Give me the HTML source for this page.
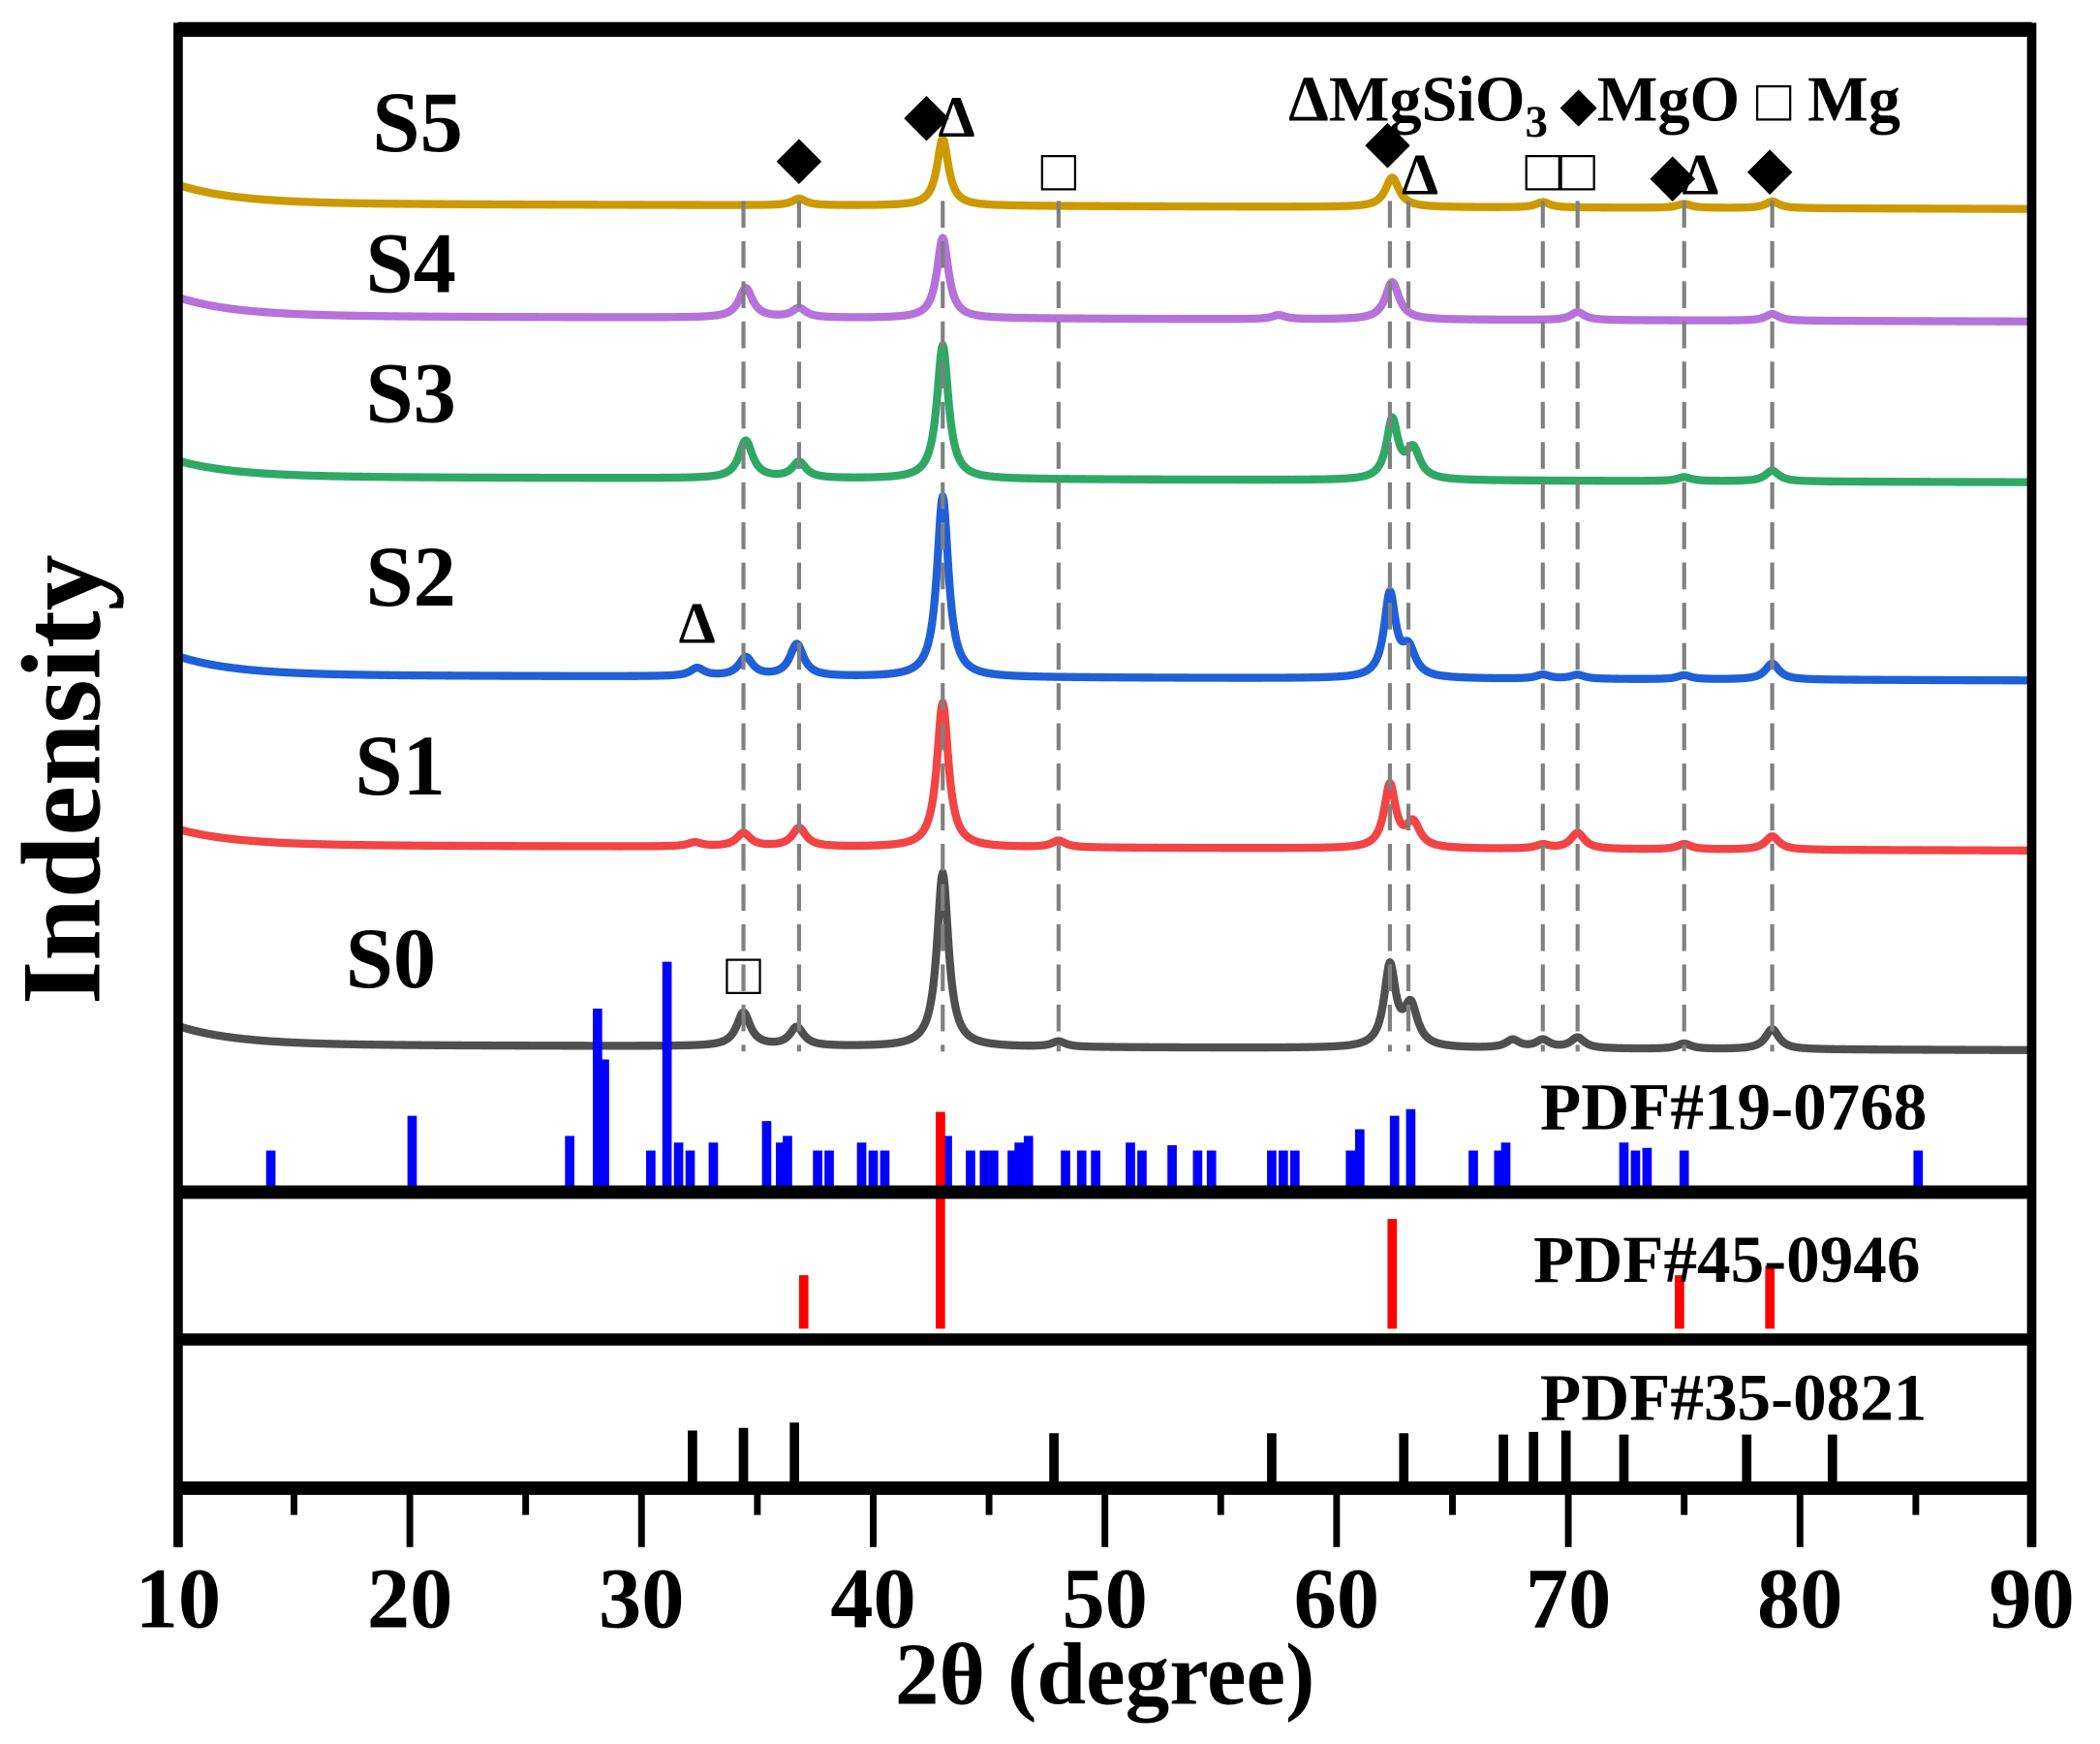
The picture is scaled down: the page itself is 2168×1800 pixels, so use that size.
<!DOCTYPE html>
<html><head><meta charset="utf-8"><style>
html,body{margin:0;padding:0;background:#fff;}
svg{display:block;}
text{font-family:"Liberation Serif","DejaVu Serif",serif;font-weight:bold;fill:#000;}
</style></head><body>
<svg id="chart" width="2168" height="1800" viewBox="0 0 1568 1302" preserveAspectRatio="none" xmlns="http://www.w3.org/2000/svg">
<g id="curves"></g>
<g id="dashes"></g>
<g id="sticks"></g>
<g id="frame"></g>
<g id="labels">
<text x="0" y="0" font-size="84" text-anchor="middle" transform="translate(74,582) rotate(-90)">Indensity</text>
<text x="825" y="1272" font-size="66" text-anchor="middle">2θ (degree)</text>
<text x="278" y="113" font-size="64">S5</text>
<text x="273" y="218" font-size="64">S4</text>
<text x="273" y="315" font-size="64">S3</text>
<text x="273" y="452" font-size="64">S2</text>
<text x="265" y="593" font-size="64">S1</text>
<text x="258" y="737" font-size="64">S0</text>
<text x="962" y="90" font-size="48">ΔMgSiO<tspan font-size="34" dy="12">3</tspan><tspan dy="-12" font-size="36"> ◆</tspan><tspan>MgO  </tspan><tspan font-size="44" font-weight="normal">□</tspan><tspan> Mg</tspan></text>
<text x="1150" y="843" font-size="50">PDF#19-0768</text>
<text x="1145" y="957" font-size="50">PDF#45-0946</text>
<text x="1150" y="1060" font-size="50">PDF#35-0821</text>
</g>
<g id="markers"></g>
</svg>
<script>
// ---- data ----
const sampleNames = ["S0","S1","S2","S3","S4","S5"];
const sampleColors = ["#4f4f4f","#f24444","#1f5fd8","#2fa866","#b472da","#cc9a00"];
const sampleBaselines = [784,635,508,360,240,156];
const sampleLeftRise = [14,12,14,12,14,14];
const peaksS0 = [[34.4,25],[36.7,14],[43.0,130],[48.0,4],[62.3,60],[63.2,30],[67.6,6],[68.9,6],[70.4,8],[75.0,4],[78.8,15]];
const peaksS1 = [[32.3,3],[34.4,10],[36.8,14],[43.0,108],[48.0,5],[62.3,47],[63.3,18],[68.9,3],[70.4,12],[75.0,4],[78.8,10]];
const peaksS2 = [[32.4,6],[34.5,14],[36.7,24],[43.0,135],[62.3,62],[63.1,20],[68.9,3],[70.4,3],[75.0,3],[78.8,12]];
const peaksS3 = [[34.5,28],[36.8,12],[43.0,100],[62.4,44],[63.3,22],[75.0,3],[78.8,8]];
const peaksS4 = [[34.5,22],[36.8,7],[43.0,60],[57.5,3],[62.4,28],[70.4,6],[78.8,5]];
const peaksS5 = [[36.8,5],[43.0,50],[62.4,22],[68.9,4],[75.0,3],[78.8,5]];
const allPeaks = [peaksS0,peaksS1,peaksS2,peaksS3,peaksS4,peaksS5];
const dashPositions = [34.4,36.8,43.0,48.0,62.3,63.1,68.9,70.4,75.0,78.8];
const pdf19Pos = [14.0,20.1,26.9,28.1,28.4,30.4,31.1,31.6,32.1,33.1,35.4,36.0,36.3,37.6,38.1,39.5,40.0,40.5,42.9,43.2,44.2,44.8,45.2,46.0,46.3,46.7,48.3,49.0,49.6,51.1,51.6,52.9,54.0,54.6,57.2,57.7,58.2,60.6,61.0,62.5,63.2,65.9,67.0,67.3,72.4,72.9,73.4,75.0,85.1];
const pdf19Int = [27,53,38,133,95,27,168,33,27,33,49,33,38,27,27,33,27,27,33,38,27,27,27,27,33,38,27,27,27,33,27,31,27,27,27,27,27,27,43,53,58,27,27,33,33,27,29,27,27];
const pdf45Pos = [37.0,42.9,62.4,74.8,78.7];
const pdf45Int = [40,162,82,40,47];
const pdf35Pos = [32.2,34.4,36.6,47.8,57.2,62.9,67.2,68.5,69.9,72.4,77.7,81.4];
const pdf35Int = [38,40,44,36,36,36,35,37,38,35,35,35];
const xTicks = [10,20,30,40,50,60,70,80,90];
const xMinor = [15,25,35,45,55,65,75,85];
// ---- scales ----
const X0=133, X1=1517;
function sx(v){return X0+(v-10)/80*(X1-X0);}
const NS="http://www.w3.org/2000/svg";
function mk(tag,attrs,parent){const e=document.createElementNS(NS,tag);for(const k in attrs)e.setAttribute(k,attrs[k]);parent.appendChild(e);return e;}
const gC=document.getElementById('curves'),gD=document.getElementById('dashes'),gS=document.getElementById('sticks'),gF=document.getElementById('frame'),gM=document.getElementById('markers');
allPeaks.forEach((pk,i)=>{
  let d="";
  for(let x=10;x<=90.001;x+=0.05){
    let y=sampleBaselines[i]-sampleLeftRise[i]*Math.exp(-(x-10)/2.5)-4*(90-x)/80;
    pk.forEach(p=>{const w=p[1]>40?0.3:0.36;y-=p[1]/(1+Math.pow((x-p[0])/w,2));});
    d+=(d?"L":"M")+sx(x).toFixed(2)+","+y.toFixed(2);
  }
  const path=mk('path',{d:d,fill:'none',stroke:sampleColors[i],'stroke-width':6,'stroke-linejoin':'round'},gC);
  
  
});
dashPositions.forEach(p=>{
  const l=mk('line',{x1:sx(p),x2:sx(p),y1:150,y2:785,stroke:'#808080','stroke-width':3,'stroke-dasharray':'20 10'},gD);
  
  
});
function sticks(pos,inten,base,color,name){
  pos.forEach((p,i)=>{
    const l=mk('line',{x1:sx(p),x2:sx(p),y1:base,y2:base-inten[i],stroke:color,'stroke-width':7},gS);
    
    
  });
}
sticks(pdf45Pos,pdf45Int,992,'#ff0000','pdf45-stick');
sticks(pdf19Pos,pdf19Int,886,'#0000ff','pdf19-stick');
const rs=mk('line',{x1:sx(42.9),x2:sx(42.9),y1:886,y2:831,stroke:'#ff0000','stroke-width':7},gS);


sticks(pdf35Pos,pdf35Int,1106,'#000000','pdf35-stick');
[[X0,22,X1,22,11],[X0,890,X1,890,10],[X0,1000,X1,1000,9],[X0,1111,X1,1111,10],[X0,17,X0,1155,7],[X1,17,X1,1155,7]].forEach(a=>{
  const l=mk('line',{x1:a[0],y1:a[1],x2:a[2],y2:a[3],stroke:'#000','stroke-width':a[4]},gF);
  
  
});
xTicks.forEach(t=>{
  const l=mk('line',{x1:sx(t),x2:sx(t),y1:1111,y2:1155,stroke:'#000','stroke-width':5},gF);
  
  
  const tx=mk('text',{x:sx(t),y:1215,'font-size':64,'text-anchor':'middle'},gF);
  tx.textContent=t;
  
  
});
xMinor.forEach(t=>{
  const l=mk('line',{x1:sx(t),x2:sx(t),y1:1111,y2:1131,stroke:'#000','stroke-width':5},gF);
  
  
});
const markerPos=[36.8,42.3,43.6,48.0,62.2,63.6,68.9,70.4,74.5,75.7,78.7,32.4,34.4];
const markerGlyph=["◆","◆","Δ","□","◆","Δ","□","□","◆","Δ","◆","Δ","□"];
const markerY=[132,100,102,142,120,145,142,142,145,145,140,480,742];
markerPos.forEach((p,i)=>{
  const t=mk('text',{x:sx(p),y:markerY[i],'font-size':44,'text-anchor':'middle'},gM);
  t.textContent=markerGlyph[i];
  
  
});
</script>
</body></html>
